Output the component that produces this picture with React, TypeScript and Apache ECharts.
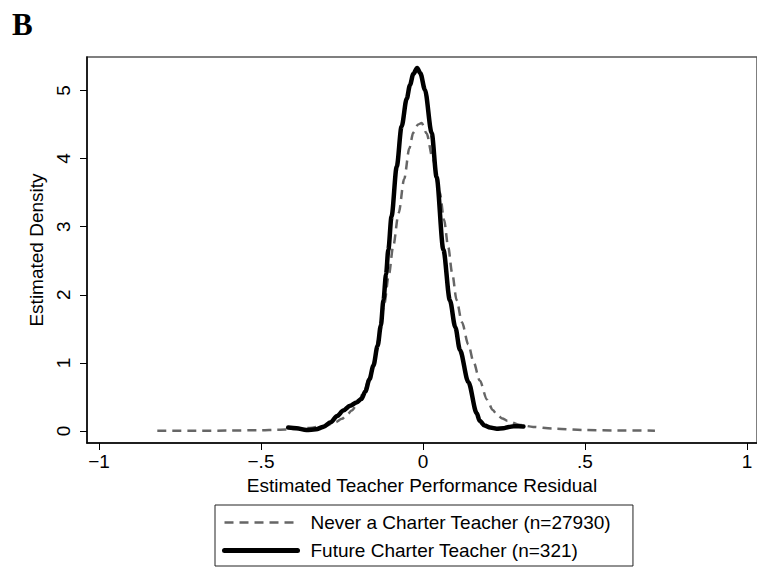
import React, { useEffect, useRef } from "react";
import * as echarts from "echarts";

// Never a Charter Teacher (n=27930) — kernel density, dashed gray
const neverX = [-0.82, -0.7, -0.6, -0.5, -0.45, -0.4, -0.35, -0.3, -0.27, -0.25, -0.236, -0.22, -0.2, -0.18, -0.165, -0.15, -0.135, -0.12, -0.105, -0.092, -0.075, -0.058, -0.042, -0.03, -0.015, -0.004, 0.011, 0.03, 0.052, 0.065, 0.078, 0.09, 0.104, 0.12, 0.14, 0.157, 0.175, 0.198, 0.215, 0.23, 0.245, 0.26, 0.3, 0.34, 0.4, 0.5, 0.6, 0.716];
const neverY = [0.002, 0.003, 0.006, 0.012, 0.018, 0.028, 0.045, 0.08, 0.13, 0.18, 0.23, 0.3, 0.42, 0.6, 0.8, 1.03, 1.38, 1.85, 2.3, 2.71, 3.2, 3.7, 4.15, 4.38, 4.5, 4.52, 4.37, 4.0, 3.5, 3.1, 2.7, 2.32, 1.92, 1.6, 1.27, 1.0, 0.74, 0.46, 0.31, 0.23, 0.185, 0.15, 0.09, 0.06, 0.035, 0.015, 0.008, 0.005];

// Future Charter Teacher (n=321) — kernel density, solid black
const futureX = [-0.416, -0.39, -0.36, -0.33, -0.308, -0.285, -0.265, -0.246, -0.225, -0.205, -0.19, -0.178, -0.165, -0.153, -0.14, -0.13, -0.122, -0.114, -0.107, -0.097, -0.081, -0.066, -0.05, -0.04, -0.03, -0.018, -0.008, 0.006, 0.027, 0.042, 0.063, 0.083, 0.1, 0.114, 0.14, 0.166, 0.175, 0.19, 0.207, 0.228, 0.248, 0.265, 0.28, 0.295, 0.31];
const futureY = [0.05, 0.04, 0.015, 0.025, 0.06, 0.13, 0.22, 0.3, 0.37, 0.42, 0.47, 0.58, 0.76, 0.96, 1.25, 1.55, 1.92, 2.3, 2.66, 3.15, 3.88, 4.47, 4.88, 5.08, 5.24, 5.33, 5.25, 5.01, 4.37, 3.73, 2.66, 1.92, 1.52, 1.19, 0.72, 0.26, 0.15, 0.08, 0.05, 0.035, 0.04, 0.06, 0.07, 0.07, 0.065];

const xTickValues = [-1, -0.5, 0, 0.5, 1];
const xTickLabels = ["\u22121", "\u2212.5", "0", ".5", "1"];
const yTickValues = [0, 1, 2, 3, 4, 5];
const yTickLabels = ["0", "1", "2", "3", "4", "5"];

const seriesNames = ["Never a Charter Teacher (n=27930)", "Future Charter Teacher (n=321)"];

const FONT = '"Liberation Sans", Arial, Helvetica, sans-serif';

export default function App() {
  const ref = useRef<HTMLDivElement>(null);
  useEffect(() => {
    if (!ref.current) return;
    const chart = echarts.init(ref.current, null, { renderer: "svg" });
    const zip = (xs: number[], ys: number[]) => xs.map((x, i) => [x, ys[i]]);
    chart.setOption({
      animation: false,
      backgroundColor: "#ffffff",
      textStyle: { fontFamily: FONT },
      graphic: [
        {
          type: "text",
          left: 12,
          top: 9,
          style: { text: "B", font: 'bold 31px "Liberation Serif", "Times New Roman", serif', fill: "#000" },
        },
      ],
      grid: { left: 87, top: 57, right: 0, bottom: 127, show: true, borderColor: "#555", borderWidth: 1.5, backgroundColor: "#fff" },
      xAxis: {
        type: "value",
        min: -1.037,
        max: 1.031,
        name: "Estimated Teacher Performance Residual",
        nameLocation: "middle",
        nameGap: 30,
        nameTextStyle: { fontSize: 19, color: "#000", fontFamily: FONT },
        axisLine: { show: true, onZero: false, lineStyle: { color: "#000", width: 1.5 } },
        axisTick: { show: true, length: 7, customValues: xTickValues, lineStyle: { color: "#000", width: 1 } },
        axisLabel: {
          customValues: xTickValues,
          margin: 9,
          fontSize: 19,
          color: "#000",
          fontFamily: FONT,
          formatter: (v: number) => xTickLabels[xTickValues.indexOf(v)] ?? "",
        },
        splitLine: { show: false },
      },
      yAxis: {
        type: "value",
        min: -0.176,
        max: 5.49,
        name: "Estimated Density",
        nameLocation: "middle",
        nameGap: 29,
        nameTextStyle: { fontSize: 19, color: "#000", fontFamily: FONT },
        axisLine: { show: true, onZero: false, lineStyle: { color: "#000", width: 1.5 } },
        axisTick: { show: true, length: 7, customValues: yTickValues, lineStyle: { color: "#000", width: 1 } },
        axisLabel: {
          customValues: yTickValues,
          rotate: 90,
          margin: 14,
          fontSize: 19,
          color: "#000",
          fontFamily: FONT,
          formatter: (v: number) => yTickLabels[yTickValues.indexOf(v)] ?? "",
        },
        splitLine: { show: false },
      },
      legend: {
        orient: "vertical",
        left: 215,
        top: 505,
        data: [
          { name: seriesNames[0], lineStyle: { width: 2.5 } },
          { name: seriesNames[1], lineStyle: { width: 5 } },
        ],
        itemWidth: 73,
        itemHeight: 20,
        itemGap: 9,
        padding: [8, 22, 6, 7],
        borderColor: "#222",
        borderWidth: 1,
        backgroundColor: "#fff",
        itemStyle: { opacity: 0, borderWidth: 0 },
        textStyle: { fontSize: 19, color: "#000", fontFamily: FONT, padding: [0, 0, 0, 8] },
      },
      series: [
        {
          name: seriesNames[0],
          type: "line",
          data: zip(neverX, neverY),
          showSymbol: false,
          symbol: "none",
          smooth: 0.3,
          smoothMonotone: "x",
          lineStyle: { color: "#666666", width: 2.5, type: [9, 6] },
          itemStyle: { color: "#666666" },
          z: 2,
        },
        {
          name: seriesNames[1],
          type: "line",
          data: zip(futureX, futureY),
          showSymbol: false,
          symbol: "none",
          smooth: 0.3,
          smoothMonotone: "x",
          lineStyle: { color: "#000000", width: 4.5, cap: "round", join: "round" },
          itemStyle: { color: "#000000" },
          z: 3,
        },
      ],
    });
    return () => chart.dispose();
  }, []);
  return <div ref={ref} style={{ width: 757, height: 570, position: "absolute", left: 0, top: 0 }} />;
}
